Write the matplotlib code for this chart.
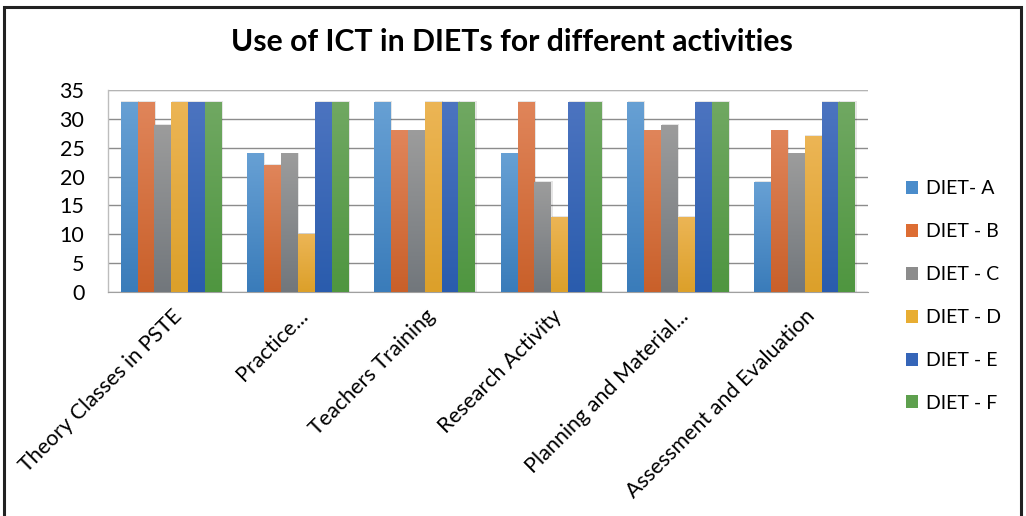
import numpy as np
import matplotlib
matplotlib.use("Agg")
import matplotlib.pyplot as plt
from matplotlib.patches import Patch, Rectangle
from matplotlib.colors import LinearSegmentedColormap

# Activities (x categories) and the six DIET series
categories = ["Theory Classes in PSTE", "Practice...", "Teachers Training",
              "Research Activity", "Planning and Material...", "Assessment and Evaluation"]
series_names = ["DIET- A", "DIET - B", "DIET - C", "DIET - D", "DIET - E", "DIET - F"]
diet_a = [33, 24, 33, 24, 33, 19]
diet_b = [33, 22, 28, 33, 28, 28]
diet_c = [29, 24, 28, 19, 29, 24]
diet_d = [33, 10, 33, 13, 13, 27]
diet_e = [33, 33, 33, 33, 33, 33]
diet_f = [33, 33, 33, 33, 33, 33]
y_ticks = [0, 5, 10, 15, 20, 25, 30, 35]

series = [diet_a, diet_b, diet_c, diet_d, diet_e, diet_f]
# (top, bottom) colours for the vertical gradient fill of each series
grad = [("#67a0d4", "#3a7cba"),
        ("#e0855a", "#c9602a"),
        ("#9c9c9c", "#72777c"),
        ("#ecb555", "#dca02a"),
        ("#4c74c0", "#2a5cad"),
        ("#70a862", "#4f9640")]
legend_colors = ["#4a8ccb", "#dd6d33", "#8c8c8c", "#e8ad32", "#3565b8", "#5ea04e"]

plt.rcParams["font.family"] = ["Lato", "DejaVu Sans"]

fig = plt.figure(figsize=(10.26, 5.16), dpi=100)
W, H = 1026, 516

# outer chart frame
fig.patches.append(Rectangle((4 / W, -0.05), (1021 - 4) / W, 1.05 - 7 / H,
                             transform=fig.transFigure, fill=False,
                             edgecolor="#222222", linewidth=2.2))

ax = fig.add_axes([108 / W, 1 - 292 / H, (868 - 108) / W, (292 - 90) / H])

x = np.arange(len(categories))
n = len(series)
group_w = 0.8
bw = group_w / n

for i, (vals, (ctop, cbot)) in enumerate(zip(series, grad)):
    offs = x - group_w / 2 + bw * (i + 0.5)
    bars = ax.bar(offs, vals, width=bw, color=ctop, linewidth=0, zorder=3)
    cmap = LinearSegmentedColormap.from_list(f"g{i}", [cbot, ctop])
    for b in bars:
        x0, y0 = b.get_x(), b.get_y()
        w, h = b.get_width(), b.get_height()
        # soft drop shadow
        ax.add_patch(Rectangle((x0 + 0.006, y0), w + 0.004, h + 0.15,
                               facecolor="#000000", alpha=0.10,
                               linewidth=0, zorder=2))
        img = ax.imshow(np.linspace(0, 1, 64).reshape(-1, 1), cmap=cmap,
                        origin="lower", aspect="auto",
                        extent=(x0, x0 + w, y0, y0 + h), zorder=4)
        img.set_clip_path(b)

ax.set_xlim(-0.5, len(categories) - 0.5)
ax.set_ylim(0, 35)
ax.set_yticks(y_ticks)
ax.set_yticklabels([str(t) for t in y_ticks], fontsize=15.5)
ax.tick_params(axis="y", length=0, pad=17)
ax.tick_params(axis="x", length=0, pad=10)
ax.set_xticks(x)
ax.set_xticklabels(categories, fontsize=15.5, rotation=45, ha="right",
                   rotation_mode="anchor")
ax.yaxis.grid(True, color="#8c8c8c", linewidth=1.0, zorder=0)
ax.set_axisbelow(True)
for s in ["top", "right"]:
    ax.spines[s].set_visible(False)
ax.spines["left"].set_color("#bdbdbd")
ax.spines["bottom"].set_color("#a0a0a0")
ax.spines["left"].set_linewidth(1.0)
ax.axhline(35, color="#bdbdbd", linewidth=1.2, zorder=1)

fig.text(512 / W, 1 - 42 / H, "Use of ICT in DIETs for different activities",
         ha="center", va="center", fontsize=21.7, fontweight="bold")

handles = [Patch(facecolor=c, edgecolor="none") for c in legend_colors]
fig.legend(handles, series_names, loc="upper left",
           bbox_to_anchor=(888 / W, 1 - 163 / H), frameon=False,
           fontsize=14, handlelength=0.65, handleheight=0.65,
           handletextpad=0.4, labelspacing=1.33)

fig.savefig("out.png", dpi=100)
